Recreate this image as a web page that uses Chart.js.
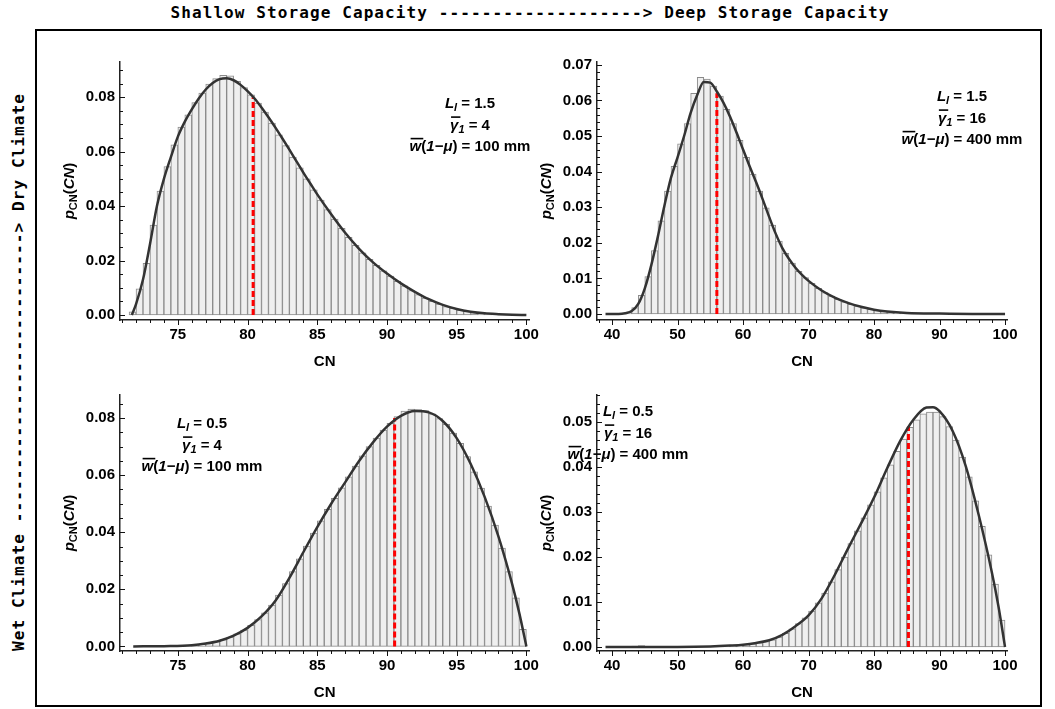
<!DOCTYPE html>
<html lang="en">
<head>
<meta charset="UTF-8">
<title>CN distributions</title>
<script src="https://cdn.jsdelivr.net/npm/chart.js"></script>
<style>
  * { margin: 0; padding: 0; box-sizing: border-box; }
  body { width: 1055px; height: 709px; background: #fff; position: relative; overflow: hidden; }
  .frame { position: absolute; left: 35px; top: 29px; width: 1007px; height: 678px; border: 2px solid #000; }
  .mono { position: absolute; white-space: pre; font: bold 16px 'DejaVu Sans Mono', monospace; letter-spacing: 1.1px; color: #000; }
  .top-title { top: 3px; left: 530px; transform: translateX(-50%); }
  .side-title { left: 18px; top: 372px; transform: translate(-50%, -50%) rotate(-90deg); }
  canvas { position: absolute; }
</style>
</head>
<body>
<div class="frame"></div>
<div class="mono top-title">Shallow Storage Capacity -------------------&gt; Deep Storage Capacity</div>
<div class="mono side-title">Wet Climate ---------------------------&gt; Dry Climate</div>
<canvas id="p1" width="505" height="335" style="left:40px;top:40px"></canvas>
<canvas id="p2" width="530" height="335" style="left:520px;top:40px"></canvas>
<canvas id="p3" width="505" height="330" style="left:40px;top:375px"></canvas>
<canvas id="p4" width="530" height="330" style="left:520px;top:375px"></canvas>
<script>
// ---- data ----
// tick labels
const xTicksShallow = [75, 80, 85, 90, 95, 100];
const xTicksDeep = [40, 50, 60, 70, 80, 90, 100];
const yTicks1 = [0, 0.02, 0.04, 0.06, 0.08];
const yTicks2 = [0, 0.01, 0.02, 0.03, 0.04, 0.05, 0.06, 0.07];
const yTicks3 = [0, 0.02, 0.04, 0.06, 0.08];
const yTicks4 = [0, 0.01, 0.02, 0.03, 0.04, 0.05];

// parameters shown in each panel
const lossL = ['1.5', '1.5', '0.5', '0.5'];
const gammaBar = ['4', '16', '4', '16'];
const storageW = ['100', '400', '100', '400'];

// histogram bins: first edge, bin width, density per bin
const binStart = [71.5, 39, 72, 39];
const binWidth = [0.5, 1, 0.5, 1];
const hist1 = [0.0012, 0.0096, 0.0190, 0.0330, 0.0455, 0.0545, 0.0625, 0.0690, 0.0735, 0.0780,
  0.0815, 0.0848, 0.0868, 0.0880, 0.0878, 0.0858, 0.0835, 0.0808, 0.0778, 0.0745,
  0.0705, 0.0662, 0.0622, 0.0580, 0.0540, 0.0500, 0.0460, 0.0422, 0.0387, 0.0352,
  0.0318, 0.0285, 0.0256, 0.0228, 0.0204, 0.0182, 0.0162, 0.0143, 0.0124, 0.0107,
  0.0090, 0.0075, 0.0062, 0.0050, 0.0040, 0.0031, 0.0024, 0.0018, 0.0013, 0.0009,
  0.0006, 0.0004, 0.0003, 0.0002, 0.0001, 0.0001, 0.0000];
const hist2 = [0, 0, 0.0001, 0.0005, 0.0018, 0.0052, 0.0105, 0.0178, 0.0262, 0.0345,
  0.0415, 0.0478, 0.0535, 0.0620, 0.0665, 0.0660, 0.0640, 0.0612, 0.0575, 0.0535,
  0.0488, 0.0440, 0.0393, 0.0345, 0.0298, 0.0250, 0.0205, 0.0170, 0.0143, 0.0120,
  0.0102, 0.0086, 0.0072, 0.0060, 0.0050, 0.0041, 0.0034, 0.0027, 0.0022, 0.0017,
  0.0013, 0.0010, 0.0008, 0.0006, 0.0004, 0.0003, 0.0002, 0.0002, 0.0001, 0.0001,
  0.0001, 0, 0, 0, 0, 0, 0, 0, 0, 0, 0];
const hist3 = [0, 0, 0.0001, 0.0001, 0.0001, 0.0002, 0.0003, 0.0004, 0.0005, 0.0007,
  0.0012, 0.0017, 0.0024, 0.0033, 0.0044, 0.0057, 0.0074, 0.0094, 0.0118, 0.0145,
  0.0180, 0.0220, 0.0262, 0.0307, 0.0352, 0.0397, 0.0440, 0.0480, 0.0519, 0.0556,
  0.0594, 0.0632, 0.0668, 0.0700, 0.0730, 0.0758, 0.0782, 0.0805, 0.0825, 0.0832,
  0.0830, 0.0826, 0.0815, 0.0798, 0.0778, 0.0748, 0.0712, 0.0665, 0.0612, 0.0555,
  0.0492, 0.0425, 0.0345, 0.0262, 0.0170, 0.0060];
const hist4 = [0, 0, 0, 0.0001, 0.0002, 0.0003, 0.0001, 0.0001, 0.0001, 0.0001,
  0.0001, 0.0001, 0.0001, 0.0001, 0.0001, 0.0001, 0.0002, 0.0002, 0.0003, 0.0003,
  0.0004, 0.0005, 0.0007, 0.0009, 0.0012, 0.0016, 0.0022, 0.0030, 0.0040, 0.0052,
  0.0065, 0.0080, 0.0098, 0.0120, 0.0145, 0.0172, 0.0200, 0.0230, 0.0258, 0.0287,
  0.0316, 0.0345, 0.0376, 0.0405, 0.0435, 0.0462, 0.0488, 0.0505, 0.0518, 0.0522,
  0.0522, 0.0512, 0.0490, 0.0460, 0.0422, 0.0378, 0.0325, 0.0268, 0.0205, 0.0140, 0.0060];

// fitted density curves [CN, p]
const curve1 = [[71.7, 0], [72, 0.004], [72.5, 0.013], [73, 0.026], [73.5, 0.040], [74, 0.050], [74.5, 0.058],
  [75, 0.0655], [75.5, 0.0710], [76, 0.0755], [76.5, 0.0795], [77, 0.0828], [77.5, 0.0852], [78, 0.0866],
  [78.5, 0.0869], [79, 0.0862], [79.5, 0.0845], [80, 0.0822], [80.5, 0.0795], [81, 0.0762], [81.5, 0.0726],
  [82, 0.0688], [82.5, 0.0648], [83, 0.0607], [83.5, 0.0565], [84, 0.0523], [84.5, 0.0483], [85, 0.0443],
  [86, 0.0370], [87, 0.0302], [88, 0.0243], [89, 0.0193], [90, 0.0152], [91, 0.0116], [92, 0.0085],
  [93, 0.0058], [94, 0.0037], [95, 0.0022], [96, 0.0012], [97, 0.0006], [98, 0.0003], [99, 0.0001], [100, 0]];
const curve2 = [[39, 0], [41, 0], [42, 0.0002], [43, 0.0008], [44, 0.0028], [45, 0.0072], [46, 0.0138],
  [47, 0.0218], [48, 0.0305], [49, 0.0383], [50, 0.0440], [51, 0.0500], [52, 0.0565], [53, 0.0615],
  [54, 0.0652], [55, 0.0650], [56, 0.0625], [57, 0.0594], [58, 0.0555], [59, 0.0510], [60, 0.0462],
  [61, 0.0415], [62, 0.0370], [63, 0.0322], [64, 0.0272], [65, 0.0225], [66, 0.0185], [67, 0.0155],
  [68, 0.0130], [69, 0.0110], [70, 0.0093], [72, 0.0066], [74, 0.0046], [76, 0.0031], [78, 0.0020],
  [80, 0.0012], [82, 0.0007], [85, 0.0003], [90, 0.0001], [95, 0], [100, 0]];
const curve3 = [[71.8, 0], [74, 0.0001], [76, 0.0004], [77, 0.0010], [78, 0.0020], [79, 0.0038], [80, 0.0065],
  [81, 0.0105], [82, 0.0160], [83, 0.0240], [84, 0.0330], [85, 0.0418], [86, 0.0500], [87, 0.0575],
  [88, 0.0650], [89, 0.0715], [90, 0.0770], [91, 0.0808], [92, 0.0825], [93, 0.0820], [94, 0.0790],
  [95, 0.0730], [96, 0.0640], [97, 0.0525], [98, 0.0385], [99, 0.0215], [99.5, 0.0115], [100, 0]];
const curve4 = [[39, 0], [50, 0], [55, 0.0001], [58, 0.0003], [60, 0.0005], [62, 0.0009], [64, 0.0015],
  [66, 0.0027], [68, 0.0046], [70, 0.0070], [72, 0.0108], [74, 0.0160], [76, 0.0218], [78, 0.0274],
  [80, 0.0332], [82, 0.0397], [84, 0.0458], [86, 0.0505], [88, 0.0532], [89, 0.0533], [90, 0.0524],
  [92, 0.0480], [94, 0.0402], [96, 0.0292], [98, 0.0165], [99, 0.0090], [100, 0]];

// red dashed marker: CN value and the density at its top
const markCN = [80.4, 56.0, 90.55, 85.25];
const markTop = [0.080, 0.062, 0.080, 0.049];

// ---- drawing ----
const FONT = "'Liberation Sans', Arial, sans-serif";

function richText(ctx, segs, cx, baseY, size) {
  const items = segs.map(s => {
    const sz = s.sub ? Math.round(size * 0.72) : size;
    const f = (s.i ? 'italic ' : '') + 'bold ' + sz + 'px ' + FONT;
    ctx.font = f;
    return Object.assign({}, s, { f: f, w: ctx.measureText(s.t).width });
  });
  const total = items.reduce((a, b) => a + b.w, 0);
  let x = cx - total / 2;
  ctx.textAlign = 'left';
  ctx.textBaseline = 'alphabetic';
  for (const it of items) {
    ctx.font = it.f;
    ctx.fillText(it.t, x, baseY + (it.sub ? size * 0.22 : 0));
    if (it.bar) ctx.fillRect(x + 1, baseY - size * 0.88, it.w + 1, 1.6);
    x += it.w;
  }
}

const decor = {
  id: 'decor',
  afterDraw(chart, args, o) {
    const ctx = chart.ctx, xs = chart.scales.x, ys = chart.scales.y, a = chart.chartArea;
    ctx.save();
    ctx.strokeStyle = '#111';
    ctx.lineWidth = 1;
    ctx.beginPath();
    // y ticks pointing into the plot
    for (let k = 0; k * o.yMinor <= ys.max + 1e-9; k++) {
      const y = Math.round(ys.getPixelForValue(k * o.yMinor)) + 0.5;
      const len = k % o.yEvery === 0 ? 5 : 3;
      ctx.moveTo(a.left, y); ctx.lineTo(a.left + len, y);
    }
    // x ticks hanging below the axis
    for (let k = Math.ceil(xs.min / o.xMinor); k * o.xMinor <= xs.max + 1e-9; k++) {
      const x = Math.round(xs.getPixelForValue(k * o.xMinor)) + 0.5;
      const len = (k * o.xMinor) % o.xMajor === 0 ? 5 : 3;
      ctx.moveTo(x, a.bottom); ctx.lineTo(x, a.bottom + len);
    }
    ctx.stroke();

    ctx.fillStyle = '#000';
    // x title
    ctx.font = 'bold 15px ' + FONT;
    ctx.textAlign = 'center';
    ctx.textBaseline = 'middle';
    ctx.fillText('CN', (a.left + a.right) / 2, a.bottom + 42);
    // y title p_CN(CN)
    ctx.save();
    ctx.translate(a.left - 51, (a.top + a.bottom) / 2);
    ctx.rotate(-Math.PI / 2);
    richText(ctx, [{ t: 'p', i: 1 }, { t: 'CN', sub: 1 }, { t: '(' }, { t: 'CN', i: 1 }, { t: ')' }], 0, 5, 15);
    ctx.restore();
    // parameter note
    const n = o.note, cx = a.left + n.dx, y0 = a.top + n.dy, gap = 21.5;
    richText(ctx, [{ t: 'L', i: 1 }, { t: 'l', i: 1, sub: 1 }, { t: ' = ' + lossL[n.k] }], cx, y0, 15);
    richText(ctx, [{ t: 'γ', i: 1, bar: 1 }, { t: '1', i: 1, sub: 1 }, { t: ' = ' + gammaBar[n.k] }], cx, y0 + gap, 15);
    richText(ctx, [{ t: 'w', i: 1, bar: 1 }, { t: '(' }, { t: '1−μ', i: 1 }, { t: ')' }, { t: ' = ' + storageW[n.k] + ' mm' }], cx, y0 + 2 * gap, 15);
    ctx.restore();
  }
};

function panel(id, k, hist, curve, o) {
  const bars = hist.map((v, i) => ({ x: binStart[k] + binWidth[k] * (i + 0.5), y: v }));
  const tickFont = { family: FONT, size: 15, weight: 'bold' };
  new Chart(document.getElementById(id), {
    type: 'bar',
    data: {
      datasets: [
        { type: 'line', data: curve.map(p => ({ x: p[0], y: p[1] })), borderColor: '#333',
          borderWidth: 2.5, pointRadius: 0, cubicInterpolationMode: 'monotone', order: 0 },
        { type: 'line', data: [{ x: markCN[k], y: 0 }, { x: markCN[k], y: markTop[k] }],
          borderColor: '#ff0000', borderWidth: 3, borderDash: [6, 3], pointRadius: 0, order: 1 },
        { data: bars, backgroundColor: '#efefef', borderColor: '#8a8a8a', borderWidth: 1,
          borderSkipped: false, barPercentage: 1, categoryPercentage: 1, order: 2 }
      ]
    },
    options: {
      responsive: false,
      animation: false,
      devicePixelRatio: 1,
      layout: { padding: o.pad },
      plugins: { legend: { display: false }, tooltip: { enabled: false }, decor: o.decor },
      scales: {
        x: {
          type: 'linear', min: o.xMin, max: o.xMax, offset: false,
          grid: { display: false, drawTicks: false },
          border: { display: true, color: '#222', width: 1.5 },
          afterBuildTicks: s => { s.ticks = o.xTicks.map(v => ({ value: v })); },
          afterFit: s => { s.height = o.xH; },
          ticks: { font: tickFont, color: '#000', padding: 6, maxRotation: 0, autoSkip: false, callback: v => String(v) }
        },
        y: {
          min: o.yMin, max: o.yMax,
          grid: { display: false, drawTicks: false },
          border: { display: true, color: '#222', width: 1.5 },
          afterBuildTicks: s => { s.ticks = o.yTicks.map(v => ({ value: v })); },
          afterFit: s => { s.width = o.yW; },
          ticks: { font: tickFont, color: '#000', padding: 5, autoSkip: false, callback: v => Number(v).toFixed(2) }
        }
      }
    },
    plugins: [decor]
  });
}

panel('p1', 0, hist1, curve1, {
  pad: { left: 0, top: 22, right: 15, bottom: 0 }, yW: 80, xH: 55,
  xMin: 70.85, xMax: 100.21, yMin: -0.00184, yMax: 0.0929, xTicks: xTicksShallow, yTicks: yTicks1,
  decor: { yMinor: 0.005, yEvery: 4, xMinor: 1, xMajor: 5, note: { k: 0, dx: 350, dy: 46 } }
});
panel('p2', 1, hist2, curve2, {
  pad: { left: 0, top: 22, right: 43, bottom: 0 }, yW: 77, xH: 55,
  xMin: 37.7, xMax: 100.3, yMin: -0.0017, yMax: 0.0708, xTicks: xTicksDeep, yTicks: yTicks2,
  decor: { yMinor: 0.002, yEvery: 5, xMinor: 2, xMajor: 10, note: { k: 1, dx: 365, dy: 39 } }
});
panel('p3', 2, hist3, curve3, {
  pad: { left: 0, top: 20, right: 15, bottom: 0 }, yW: 80, xH: 54,
  xMin: 70.85, xMax: 100.21, yMin: -0.0016, yMax: 0.0881, xTicks: xTicksShallow, yTicks: yTicks3,
  decor: { yMinor: 0.005, yEvery: 4, xMinor: 1, xMajor: 5, note: { k: 2, dx: 82, dy: 33 } }
});
panel('p4', 3, hist4, curve4, {
  pad: { left: 0, top: 20, right: 43, bottom: 0 }, yW: 77, xH: 54,
  xMin: 37.7, xMax: 100.3, yMin: -0.0009, yMax: 0.056, xTicks: xTicksDeep, yTicks: yTicks4,
  decor: { yMinor: 0.002, yEvery: 5, xMinor: 2, xMajor: 10, note: { k: 3, dx: 31, dy: 21 } }
});
</script>
</body>
</html>
